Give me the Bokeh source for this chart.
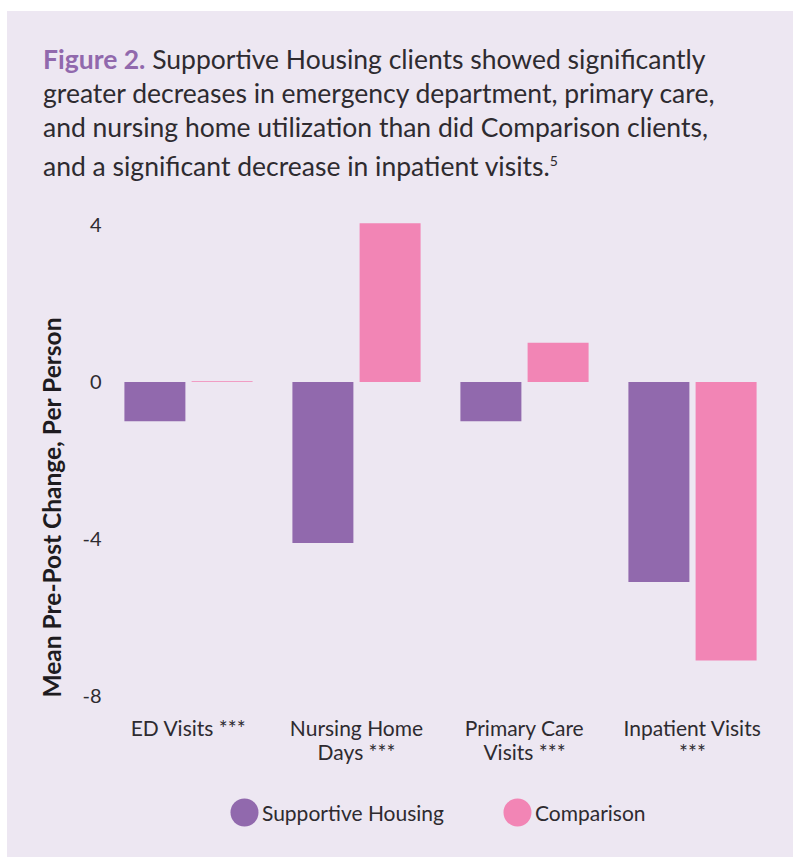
from bokeh.plotting import figure
from bokeh.models import (FactorRange, Range1d, Title, Div, Spacer,
                          ColumnDataSource, FixedTicker, CategoricalAxis)
from bokeh.layouts import column, row
from bokeh.transform import dodge
from bokeh.core.properties import value
from bokeh.embed import file_html
from bokeh.resources import INLINE

# ---- data ----
category_labels = ["ED Visits ***", "Nursing Home\nDays ***", "Primary Care\nVisits ***", "Inpatient Visits\n***"]
supportive_housing = [-1.0, -4.1, -1.0, -5.1]
comparison = [0.02, 4.05, 1.0, -7.1]
y_ticks = [4, 0, -4, -8]
series_names = ["Supportive Housing", "Comparison"]

title_lead = "Figure 2."
title_lines = [
    "Supportive Housing clients showed significantly",
    "greater decreases in emergency department, primary care,",
    "and nursing home utilization than did Comparison clients,",
    "and a significant decrease in inpatient visits.<sup style='font-size:14px'>5</sup>",
]
y_label = "Mean Pre-Post Change, Per Person"

# ---- style ----
BG = "#EDE7F2"
PURPLE = "#9169AD"
PINK = "#F285B5"
TEXT = "#2E2B30"
FONT = "Lato"
series_colors = [PURPLE, PINK]

# category label lines (first line is the factor of the main range, second of an extra range)
line1 = [l.split("\n")[0] for l in category_labels]
line2 = [(l.split("\n")[1] if "\n" in l else " ") for l in category_labels]

# ---- title block ----
html = ("<div style=\"background:#FFFFFF; width:786px; height:11px;\"></div>"
        f"<div style=\"background:{BG}; width:786px; height:174px; box-sizing:border-box;"
        f" padding:31px 0 0 36px; font-family:{FONT}; font-size:26.5px; line-height:34px;"
        f" color:{TEXT}; white-space:nowrap;\">"
        f"<span style=\"color:{PURPLE}; font-weight:bold;\">{title_lead}</span> "
        + "<br>".join(title_lines) + "</div>")
title_div = Div(text=html, width=786, height=185, margin=0)

# ---- chart ----
source = ColumnDataSource(dict(cat=line1, sh=supportive_housing, cmp=comparison))

p = figure(x_range=FactorRange(*line1, range_padding=0),
           y_range=Range1d(-8.5, 4.5),
           frame_width=672, frame_height=510,
           min_border_left=97, min_border_right=17,
           min_border_top=20, min_border_bottom=62,
           output_backend="svg", toolbar_location=None,
           background_fill_alpha=0, border_fill_alpha=0, margin=0)
p.extra_x_ranges = {"line2": FactorRange(*line2, range_padding=0)}
p.outline_line_color = None
p.grid.grid_line_color = None

p.vbar(x=dodge("cat", -0.2, range=p.x_range), top="sh", bottom=0, width=0.363,
       source=source, fill_color=PURPLE, line_color=None)
p.vbar(x=dodge("cat", 0.2, range=p.x_range), top="cmp", bottom=0, width=0.363,
       source=source, fill_color=PINK, line_color=None)

# y axis
p.yaxis.ticker = FixedTicker(ticks=y_ticks)
p.yaxis.major_label_overrides = {t: str(t) for t in y_ticks}
p.yaxis.axis_line_color = None
p.yaxis.major_tick_line_color = None
p.yaxis.minor_tick_line_color = None
p.yaxis.major_tick_out = 0
p.yaxis.major_label_standoff = 3
p.yaxis.major_label_text_font = FONT
p.yaxis.major_label_text_font_size = "20px"
p.yaxis.major_label_text_color = TEXT

def style_xaxis(ax, standoff):
    ax.axis_line_color = None
    ax.major_tick_line_color = None
    ax.minor_tick_line_color = None
    ax.major_tick_out = 0
    ax.major_label_standoff = standoff
    ax.major_label_text_font = FONT
    ax.major_label_text_font_size = "21px"
    ax.major_label_text_color = TEXT

style_xaxis(p.xaxis[0], -1)
ax2 = CategoricalAxis(x_range_name="line2")
style_xaxis(ax2, -4)
p.add_layout(ax2, "below")

# y label as a side title
p.add_layout(Title(text=y_label, align="left", offset=18, standoff=28,
                   text_font=FONT, text_font_style="bold", text_font_size="24.5px",
                   text_color="#1E1B20"), "left")

# ---- legend strip ----
leg_src = ColumnDataSource(dict(name=series_names, color=series_colors))
lg = figure(x_range=FactorRange(*series_names, range_padding=0.2308, range_padding_units="absolute"),
            y_range=Range1d(-45, 35),
            frame_width=672, frame_height=80,
            min_border_left=97, min_border_right=17, min_border_top=0, min_border_bottom=0,
            x_axis_location=None, y_axis_location=None,
            output_backend="svg", toolbar_location=None,
            background_fill_alpha=0, border_fill_alpha=0, margin=0)
lg.outline_line_color = None
lg.grid.grid_line_color = None
lg.scatter(x=dodge("name", -0.218, range=lg.x_range), y=0, source=leg_src, marker="circle",
           size=28, fill_color="color", line_color=None)
lg.text(x=dodge("name", -0.154, range=lg.x_range), y=0, text="name", source=leg_src,
        text_align="left", text_baseline="middle", text_font=value(FONT),
        text_font_size=value("21px"), text_color=TEXT)

body = column(title_div, p, lg, margin=0, styles={"background-color": BG})
layout = row(Spacer(width=7, height=857, margin=0), body, margin=0)
open("out.html", "w").write(file_html(layout, INLINE))
